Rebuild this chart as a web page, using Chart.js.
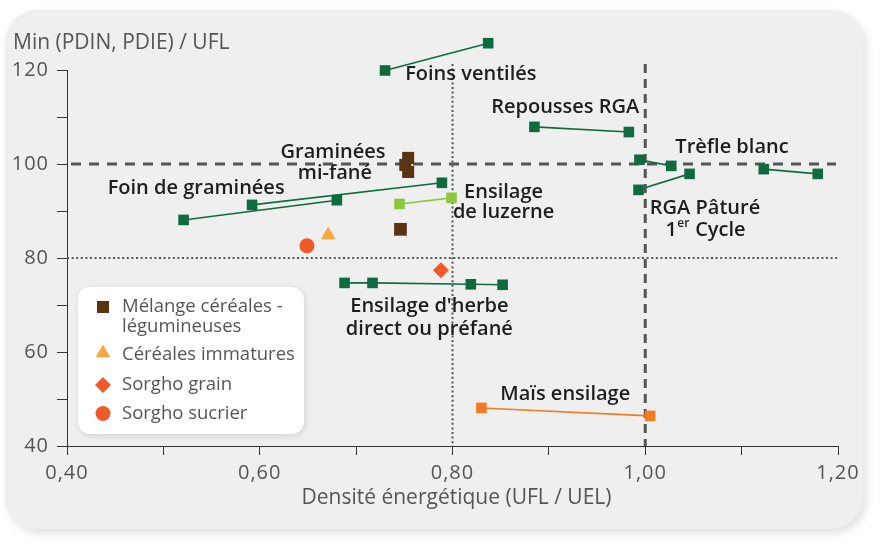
<!DOCTYPE html>
<html><head><meta charset="utf-8">
<script src="https://cdn.jsdelivr.net/npm/chart.js@4.4.0/dist/chart.umd.min.js"></script>
<style>
html,body{margin:0;padding:0;background:#fff;}
#wrap{position:relative;width:880px;height:544px;overflow:hidden;background:#fff;}
#panel{position:absolute;left:5px;top:10px;width:858px;height:519px;border-radius:32px;background:#efefef;box-shadow:3px 4px 10px rgba(0,0,0,0.13);}
canvas{position:absolute;left:0;top:0;}
</style></head><body>
<div id="wrap"><div id="panel"></div><canvas id="c" width="880" height="544"></canvas></div>
<script>
// ---- data (x = UFL/UEL, y = Min(PDIN,PDIE)/UFL) ----
const foinsVentiles   = [[0.730, 119.9], [0.837, 125.7]];
const repoussesRGA    = [[0.885, 107.9], [0.983, 106.8]];
const trefleHaut      = [[0.994, 100.9], [1.027, 99.6]];
const rgaPature       = [[0.993, 94.5], [1.046, 97.9]];
const trefleBlanc     = [[1.123, 98.9], [1.179, 97.9]];
const foinGraminees1  = [[0.521, 88.1], [0.680, 92.3]];
const foinGraminees2  = [[0.592, 91.3], [0.789, 96.0]];
const ensilageLuzerne = [[0.745, 91.5], [0.799, 92.8]];
const ensilageHerbe   = [[0.688, 74.7], [0.717, 74.7], [0.819, 74.4], [0.852, 74.3]];
const maisEnsilage    = [[0.830, 48.1], [1.005, 46.4]];
const gramineesMiFane = [[0.754, 101.3], [0.751, 99.8], [0.754, 98.3]];
const melangeCereales = [[0.746, 86.1]];
const cerealesImmat   = [[0.671, 84.9]];
const sorghoGrain     = [[0.788, 77.4]];
const sorghoSucrier   = [[0.649, 82.6]];

const xMin = 0.40, xMax = 1.20, xStep = 0.10;
const yMin = 40, yMax = 120, yStep = 10;
const refLinesDashed = {x: 1.00, y: 100};
const refLinesDotted = {x: 0.80, y: 80};
const yTitle = 'Min (PDIN, PDIE) / UFL';
const xTitle = 'Densité énergétique (UFL / UEL)';

const annotations = [
  {text: 'Foins ventilés', x: 0.819, y: 119.15},
  {text: 'Repousses RGA', x: 0.917, y: 112.1},
  {text: 'Trèfle blanc', x: 1.090, y: 103.6},
  {text: 'Graminées', x: 0.676, y: 102.55},
  {text: 'mi-fané', x: 0.678, y: 98.1},
  {text: 'Foin de graminées', x: 0.534, y: 94.9},
  {text: 'Ensilage', x: 0.853, y: 94.0},
  {text: 'de luzerne', x: 0.853, y: 89.8},
  {text: 'RGA Pâturé', x: 1.062, y: 90.6},
  {text: '1|er| Cycle', x: 1.062, y: 86.0},
  {text: "Ensilage d'herbe", x: 0.776, y: 69.8},
  {text: 'direct ou préfané', x: 0.776, y: 64.9},
  {text: 'Maïs ensilage', x: 0.917, y: 51.1}
];

const legendItems = [
  {lines: ['Mélange céréales -', 'légumineuses'], style: 'rect', color: '#5a3313', r: 8.5},
  {lines: ['Céréales immatures'], style: 'triangle', color: '#f9a73e', r: 8.5},
  {lines: ['Sorgho grain'], style: 'rectRot', color: '#ef5a28', r: 8},
  {lines: ['Sorgho sucrier'], style: 'circle', color: '#ef5a28', r: 7.5}
];

const DARK = '#0f6b3f', LIGHT = '#8dc63f', BROWN = '#5a3313', ORANGE = '#f47b20';
const toPts = a => a.map(p => ({x: p[0], y: p[1]}));
function lineSet(data, color, r) {
  return {data: toPts(data), showLine: true, borderColor: color, backgroundColor: color,
    pointBackgroundColor: color, pointBorderColor: color, pointBorderWidth: 0,
    borderWidth: 1.6, pointStyle: 'rect', pointRadius: r || 7.5, clip: false};
}
function pointSet(data, color, style, r) {
  return {data: toPts(data), showLine: false, backgroundColor: color, borderColor: color,
    pointBackgroundColor: color, pointBorderColor: color, pointBorderWidth: 0,
    pointStyle: style, pointRadius: r, clip: false};
}

const guides = {
  id: 'guides',
  beforeDraw(chart) {
    chart.ctx.letterSpacing = '1px';
  },
  beforeDatasetsDraw(chart) {
    const {ctx, chartArea: ca, scales: {x, y}} = chart;
    ctx.letterSpacing = '0px';
    ctx.save();
    ctx.strokeStyle = '#555';
    ctx.lineWidth = 2; ctx.setLineDash([2, 2.6]);
    let px = x.getPixelForValue(refLinesDotted.x), py = y.getPixelForValue(refLinesDotted.y);
    ctx.beginPath(); ctx.moveTo(px, ca.top - 6); ctx.lineTo(px, ca.bottom); ctx.stroke();
    ctx.beginPath(); ctx.moveTo(ca.left, py); ctx.lineTo(ca.right, py); ctx.stroke();
    ctx.lineWidth = 3; ctx.setLineDash([10, 8]);
    py = y.getPixelForValue(refLinesDashed.y);
    ctx.beginPath(); ctx.moveTo(ca.left + 4, py); ctx.lineTo(ca.right - 2, py); ctx.stroke();
    ctx.setLineDash([9, 6]);
    px = x.getPixelForValue(refLinesDashed.x);
    ctx.beginPath(); ctx.moveTo(px, ca.top - 6); ctx.lineTo(px, ca.bottom); ctx.stroke();
    ctx.restore();
  },
  afterDatasetsDraw(chart) {
    const {ctx, chartArea: ca, scales: {x, y}} = chart;
    ctx.save();
    ctx.letterSpacing = '0px';
    // points lying above the plot area (drawn by the library's own point elements)
    const big = {left: -1e4, top: -1e4, right: 1e4, bottom: 1e4};
    chart.data.datasets.forEach((d, i) => {
      chart.getDatasetMeta(i).data.forEach(p => {
        if (p.y < ca.top - 0.5) p.draw(ctx, big);
      });
    });
    // axis titles
    ctx.fillStyle = '#555';
    ctx.font = '21px "Open Sans"';
    ctx.textAlign = 'left'; ctx.textBaseline = 'middle';
    ctx.fillText(yTitle, 13, 43);
    ctx.textAlign = 'center';
    ctx.fillText(xTitle, (ca.left + ca.right) / 2 + 4, 498);
    // annotations
    ctx.fillStyle = '#1e1e1e';
    const f = '600 20px "Open Sans"', fs = '600 12px "Open Sans"';
    for (const a of annotations) {
      const cx = x.getPixelForValue(a.x), cy = y.getPixelForValue(a.y);
      ctx.font = f;
      if (a.text.includes('|')) {
        const parts = a.text.split('|');
        ctx.font = f; const w0 = ctx.measureText(parts[0]).width;
        ctx.font = fs; const w1 = ctx.measureText(parts[1]).width;
        ctx.font = f; const w2 = ctx.measureText(parts[2]).width;
        const sx = cx - (w0 + w1 + w2) / 2;
        ctx.textAlign = 'left';
        ctx.fillText(parts[0], sx, cy);
        ctx.font = fs;
        ctx.fillText(parts[1], sx + w0 + 0.5, cy - 6);
        ctx.font = f;
        ctx.fillText(parts[2], sx + w0 + w1 + 1, cy);
      } else {
        ctx.textAlign = 'center';
        ctx.fillText(a.text, cx, cy);
      }
    }
    // legend box
    const L = 78, T = 287, R = 304, B = 434, rad = 14;
    ctx.save();
    ctx.shadowColor = 'rgba(0,0,0,0.12)'; ctx.shadowBlur = 6; ctx.shadowOffsetX = 1; ctx.shadowOffsetY = 2;
    ctx.fillStyle = '#fff';
    ctx.beginPath();
    ctx.moveTo(L + rad, T); ctx.lineTo(R - rad, T); ctx.quadraticCurveTo(R, T, R, T + rad);
    ctx.lineTo(R, B - rad); ctx.quadraticCurveTo(R, B, R - rad, B);
    ctx.lineTo(L + rad, B); ctx.quadraticCurveTo(L, B, L, B - rad);
    ctx.lineTo(L, T + rad); ctx.quadraticCurveTo(L, T, L + rad, T);
    ctx.closePath(); ctx.fill();
    ctx.restore();
    const rowsY = [[307, 327], [355], [384.5], [414]];
    const markY = [307, 353, 385, 413.5];
    ctx.font = '18.5px "Open Sans"'; ctx.textAlign = 'left'; ctx.textBaseline = 'middle';
    legendItems.forEach((it, i) => {
      ctx.fillStyle = it.color;
      Chart.helpers.drawPoint(ctx, {pointStyle: it.style, radius: it.r, borderWidth: 0, rotation: 0}, 103, markY[i]);
      ctx.fillStyle = '#555';
      it.lines.forEach((t, j) => ctx.fillText(t, 122, rowsY[i][j]));
    });
    ctx.restore();
  }
};

new Chart(document.getElementById('c'), {
  type: 'scatter',
  data: {datasets: [
    lineSet(foinsVentiles, DARK),
    lineSet(repoussesRGA, DARK),
    lineSet(trefleHaut, DARK),
    lineSet(rgaPature, DARK),
    lineSet(trefleBlanc, DARK),
    lineSet(foinGraminees1, DARK),
    lineSet(foinGraminees2, DARK),
    lineSet(ensilageLuzerne, LIGHT),
    lineSet(ensilageHerbe, DARK),
    lineSet(maisEnsilage, ORANGE),
    pointSet(gramineesMiFane, BROWN, 'rect', 8.5),
    pointSet(melangeCereales, BROWN, 'rect', 9),
    pointSet(cerealesImmat, '#f9a73e', 'triangle', 8.5),
    pointSet(sorghoGrain, '#ef5a28', 'rectRot', 8),
    pointSet(sorghoSucrier, '#ef5a28', 'circle', 7.5)
  ]},
  options: {
    responsive: false, animation: false, events: [],
    layout: {padding: {top: 70, right: 42, left: 0, bottom: 0}},
    plugins: {legend: {display: false}, tooltip: {enabled: false}},
    scales: {
      x: {
        type: 'linear', min: xMin, max: xMax,
        afterFit: s => { s.height = 98; },
        border: {color: '#333', width: 1},
        grid: {drawOnChartArea: false, drawTicks: true, tickLength: 9, color: '#333'},
        ticks: {stepSize: xStep, color: '#555', font: {family: 'Open Sans', size: 20}, padding: 6,
          callback: v => (Math.round(v * 10) % 2 === 0) ? v.toFixed(2).replace('.', ',') : ''}
      },
      y: {
        type: 'linear', min: yMin, max: yMax,
        afterFit: s => { s.width = 67; },
        border: {color: '#333', width: 1},
        grid: {drawOnChartArea: false, drawTicks: true, tickLength: 10, color: '#333'},
        ticks: {stepSize: yStep, color: '#555', font: {family: 'Open Sans', size: 20}, padding: 8,
          callback: v => (v % 20 === 0) ? String(v) : ''}
      }
    }
  },
  plugins: [guides]
});
</script>
</body></html>
